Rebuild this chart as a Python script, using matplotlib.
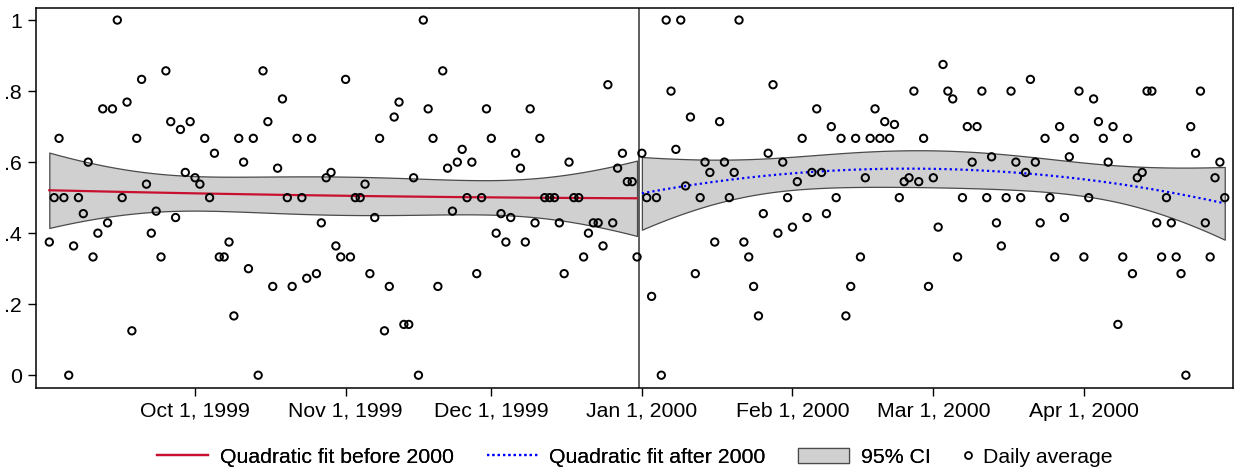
import numpy as np
import pandas as pd
import matplotlib
matplotlib.use("Agg")
import matplotlib.pyplot as plt
import matplotlib.dates as mdates
from matplotlib.lines import Line2D
from matplotlib.patches import Patch

plt.rcParams["font.family"] = ["Liberation Sans", "DejaVu Sans"]
plt.rcParams["font.size"] = 15.3

# daily averages, Sep 1 - Dec 31, 1999
avg_1999 = [
    .375, .5, .667, .5, 0, .364, .5, .455, .6, .333,
    .4, .75, .429, .75, 1, .5, .769, .125, .667, .833,
    .538, .4, .462, .333, .857, .714, .444, .692, .571, .714,
    .556, .538, .667, .5, .625, .333, .333, .375, .167, .667,
    .6, .3, .667, 0, .857, .714, .25, .583, .778, .5,
    .25, .667, .5, .273, .667, .286, .429, .556, .571, .364,
    .333, .833, .333, .5, .5, .538, .286, .444, .667, .125,
    .25, .727, .769, .143, .143, .556, 0, 1, .75, .667,
    .25, .857, .583, .462, .6, .636, .5, .6, .286, .5,
    .75, .667, .4, .455, .375, .444, .625, .583, .375, .75,
    .429, .667, .5, .5, .5, .429, .286, .6, .5, .5,
    .333, .4, .429, .429, .364, .818, .429, .583, .625, .545,
    .545, .333,
]
# daily averages, Jan 1 - Apr 30, 2000
avg_2000 = [
    .625, .5, .222, .5, 0, 1, .8, .636, 1, .533,
    .727, .286, .5, .6, .571, .375, .714, .6, .5, .571,
    1, .375, .333, .25, .167, .455, .625, .818, .4, .6,
    .5, .417, .545, .667, .444, .571, .75, .571, .455, .7,
    .5, .667, .167, .25, .667, .333, .556, .667, .75, .667,
    .714, .667, .706, .5, .545, .556, .8, .545, .667, .25,
    .556, .417, .875, .8, .778, .333, .5, .7, .6, .7,
    .8, .5, .615, .429, .364, .5, .8, .6, .5, .571,
    .833, .6, .429, .667, .5, .333, .7, .444, .615, .667,
    .8, .333, .5, .778, .714, .667, .6, .7, .143, .333,
    .667, .286, .556, .571, .8, .8, .429, .333, .5, .429,
    .333, .286, 0, .7, .625, .8, .429, .333, .556, .6,
    .5,
]
dates_1999 = pd.date_range("1999-09-01", periods=len(avg_1999), freq="D")
dates_2000 = pd.date_range("2000-01-01", periods=len(avg_2000), freq="D")

tick_dates = pd.to_datetime(["1999-10-01", "1999-11-01", "1999-12-01",
                             "2000-01-01", "2000-02-01", "2000-03-01",
                             "2000-04-01"])
tick_labels = ["Oct 1, 1999", "Nov 1, 1999", "Dec 1, 1999", "Jan 1, 2000",
               "Feb 1, 2000", "Mar 1, 2000", "Apr 1, 2000"]
y_ticks = [0, .2, .4, .6, .8, 1]
y_labels = ["0", ".2", ".4", ".6", ".8", "1"]


def qfit_ci(dates, y, t_crit=1.98):
    """quadratic fit with 95% CI of the mean prediction"""
    x = mdates.date2num(dates)
    x0 = x.mean()
    xc = x - x0
    y = np.asarray(y, dtype=float)
    X = np.column_stack([np.ones_like(xc), xc, xc ** 2])
    beta, *_ = np.linalg.lstsq(X, y, rcond=None)
    resid = y - X @ beta
    s2 = resid @ resid / (len(y) - 3)
    cov = s2 * np.linalg.inv(X.T @ X)
    g = np.linspace(xc.min(), xc.max(), 200)
    G = np.column_stack([np.ones_like(g), g, g ** 2])
    fit = G @ beta
    se = np.sqrt(np.einsum("ij,jk,ik->i", G, cov, G))
    return g + x0, fit, fit - t_crit * se, fit + t_crit * se


fig = plt.figure(figsize=(12.36, 4.73), dpi=100)
ax = fig.add_axes([36 / 1236, 1 - 388 / 473, 1197 / 1236, 380 / 473])

ci_color = "#d0d0d0"
ci_edge = "#4a4a4a"
red = "#c8102e"
blue = "#0000ff"

for dates, vals, color, ls in [(dates_1999, avg_1999, red, "-"),
                               (dates_2000, avg_2000, blue, (0, (1.0, 1.4)))]:
    gx, fit, lo, hi = qfit_ci(dates, vals)
    ax.fill_between(gx, lo, hi, facecolor=ci_color, edgecolor=ci_edge,
                    linewidth=0.9, zorder=1)
    ax.plot(gx, fit, color=color, linestyle=ls, linewidth=1.6, zorder=2)

all_dates = dates_1999.append(dates_2000)
all_vals = avg_1999 + avg_2000
ax.scatter(all_dates, all_vals, s=28, facecolors="none", edgecolors="black",
           linewidths=1.4, zorder=3)

ax.axvline(mdates.date2num(pd.Timestamp("2000-01-01")) - 0.5,
           color="#333333", linewidth=1.1, zorder=2.5)

x_start = mdates.date2num(dates_1999[0])
ax.set_xlim(x_start - 2.74, x_start + 243.7)
ax.set_ylim(-0.036, 1.034)
ax.set_xticks(mdates.date2num(tick_dates))
ax.set_xticklabels(tick_labels)
ax.set_yticks(y_ticks)
ax.set_yticklabels(y_labels)
ax.tick_params(axis="both", direction="out", length=6, width=1, pad=4)
for sp in ax.spines.values():
    sp.set_linewidth(1.1)

handles = [
    Line2D([], [], color=red, linewidth=1.6),
    Line2D([], [], color=blue, linestyle=(0, (1.0, 1.4)), linewidth=1.6),
    Patch(facecolor=ci_color, edgecolor=ci_edge, linewidth=0.9),
]
labels = ["Quadratic fit before 2000", "Quadratic fit after 2000", "95% CI"]
leg1 = fig.legend(handles, labels, loc="center left",
                  bbox_to_anchor=(157 / 1236, 1 - 457 / 473), ncol=3,
                  frameon=False, borderpad=0, borderaxespad=0,
                  handlelength=2.4, handletextpad=0.55, columnspacing=1.55)
fig.add_artist(leg1)
dot = Line2D([], [], linestyle="none", marker="o", markersize=5,
             markerfacecolor="none", markeredgecolor="black",
             markeredgewidth=1.3)
fig.legend([dot], ["Daily average"], loc="center left",
           bbox_to_anchor=(962 / 1236, 1 - 457 / 473), frameon=False,
           borderpad=0, borderaxespad=0, handlelength=0.6,
           handletextpad=0.4)

fig.savefig("out.png", dpi=100)
